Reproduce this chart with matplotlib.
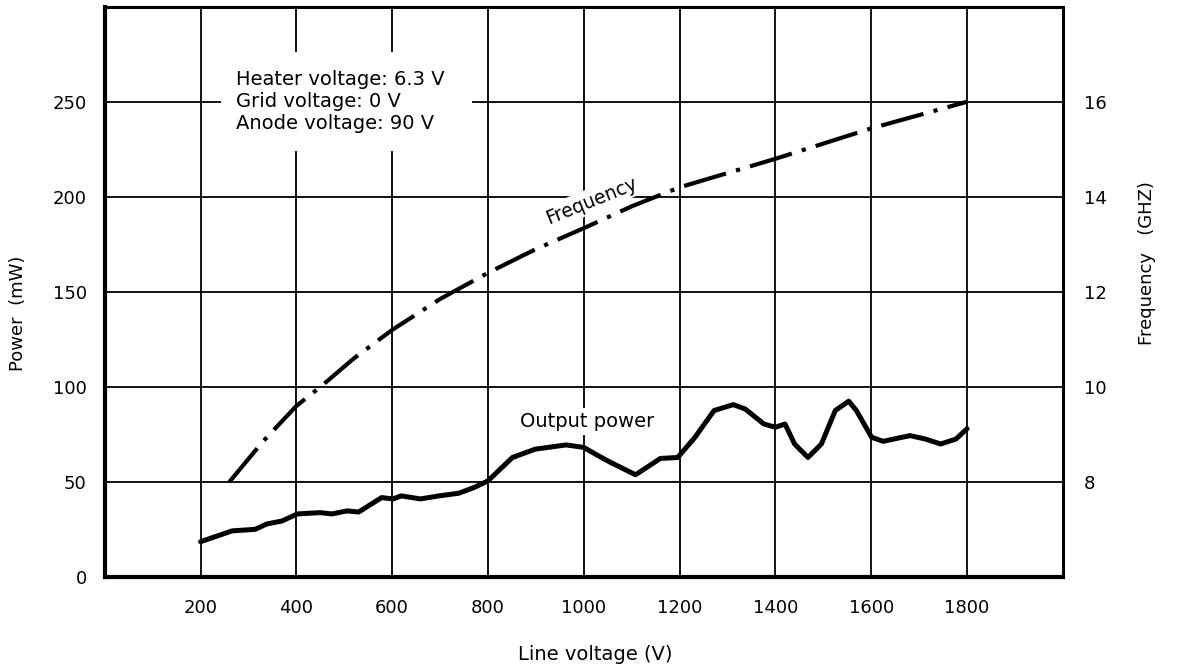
import matplotlib.pyplot as plt
from matplotlib.patches import Rectangle

plt.rcParams['font.family'] = ['DejaVu Sans']

# Output power (mW) vs line voltage (V)
power_v = [200, 266, 314, 338, 370, 402, 450, 474, 506, 530, 578, 602, 619, 659,
           698, 739, 771, 800, 851, 899, 963, 1000, 1024, 1056, 1108, 1160, 1196,
           1232, 1272, 1312, 1337, 1376, 1400, 1420, 1440, 1468, 1496, 1525, 1553,
           1569, 1601, 1625, 1681, 1713, 1745, 1777, 1800]
power_mw = [18.6, 24.3, 25.1, 27.9, 29.5, 33.2, 33.9, 33.2, 34.8, 34.2, 41.8, 41.1,
            42.7, 41.1, 42.7, 44.1, 47.1, 50.6, 62.9, 67.3, 69.5, 68.2, 64.7, 60.3,
            53.8, 62.4, 62.9, 73.5, 87.6, 90.7, 88.4, 80.5, 78.8, 80.5, 70.0, 62.9,
            70.0, 87.6, 92.5, 87.6, 73.5, 71.4, 74.4, 72.6, 70.0, 72.6, 78.0]

# Frequency (GHz) vs line voltage (V)
freq_v = [260, 330, 400, 450, 520, 600, 700, 800, 900, 1000, 1100, 1200, 1300,
          1400, 1500, 1600, 1700, 1800]
freq_ghz = [8.0, 8.85, 9.6, 10.0, 10.6, 11.2, 11.85, 12.4, 12.9, 13.34, 13.8,
            14.2, 14.5, 14.8, 15.12, 15.44, 15.72, 16.0]

x_ticks = [200, 400, 600, 800, 1000, 1200, 1400, 1600, 1800]
p_ticks = [0, 50, 100, 150, 200, 250]
f_ticks = [8, 10, 12, 14, 16]

notes = "Heater voltage: 6.3 V\nGrid voltage: 0 V\nAnode voltage: 90 V"

fig = plt.figure(figsize=(11.77, 6.71), dpi=100)
ax = fig.add_axes([0.089, 0.140, 0.814, 0.850])
ax.set_xlim(0, 2000)
ax.set_ylim(0, 300)
ax.set_xticks(x_ticks)
ax.set_yticks(p_ticks)
ax.grid(True, color='black', linewidth=1.3)
ax.set_axisbelow(True)
ax.tick_params(length=0, labelsize=13)
ax.tick_params(axis='x', pad=16)
ax.tick_params(axis='y', pad=13)
for side in ['left', 'bottom']:
    ax.spines[side].set_linewidth(3)
for side in ['top', 'right']:
    ax.spines[side].set_linewidth(2.2)

ax.plot(power_v, power_mw, color='black', linewidth=3.6,
        solid_joinstyle='round', solid_capstyle='round', zorder=3)

ax2 = ax.twinx()
ax2.set_ylim(6, 18)
ax2.set_yticks(f_ticks)
ax2.tick_params(length=0, labelsize=13, pad=15)
for s in ax2.spines.values():
    s.set_visible(False)
ax2.plot(freq_v, freq_ghz, color='black', linewidth=3.0,
         dashes=(10.5, 2.5, 1, 2.5), zorder=3)

# axis titles
fig.text(18 / 1177, 1 - 313 / 671, "Power  (mW)", rotation=90, fontsize=13,
         ha='center', va='center')
fig.text(1147 / 1177, 1 - 263 / 671, "Frequency   (GHZ)", rotation=90, fontsize=13,
         ha='center', va='center')
fig.text(595 / 1177, 1 - 655 / 671, "Line voltage (V)", fontsize=14,
         ha='center', va='center')

# white patch behind the operating conditions note
ax.add_patch(Rectangle((242, 224), 525, 52, facecolor='white', edgecolor='none',
                       zorder=2))
ax.text(273, 250, notes, ha='left', va='center', fontsize=14, linespacing=1.2,
        zorder=2.5)
ax.text(1017, 198, "Frequency", ha='center', va='center', fontsize=13.5, rotation=22,
        bbox=dict(facecolor='white', edgecolor='none', pad=2), zorder=2)
ax.text(1008, 82, "Output power", ha='center', va='center', fontsize=14,
        bbox=dict(facecolor='white', edgecolor='none', pad=3), zorder=2)

plt.savefig("out.png", dpi=100)
